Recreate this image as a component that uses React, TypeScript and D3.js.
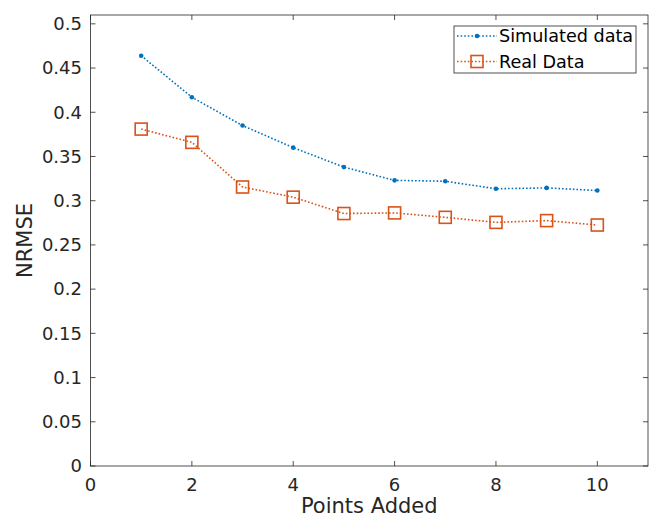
import React from "react";
import * as d3 from "d3";

const xValues = [1, 2, 3, 4, 5, 6, 7, 8, 9, 10];
const simulated = [0.464, 0.417, 0.385, 0.36, 0.338, 0.323, 0.322, 0.3135, 0.3145, 0.3115];
const real = [0.381, 0.366, 0.3155, 0.304, 0.2855, 0.2862, 0.2812, 0.2755, 0.2775, 0.2725];
const xTicks = [0, 2, 4, 6, 8, 10];
const yTicks = [0, 0.05, 0.1, 0.15, 0.2, 0.25, 0.3, 0.35, 0.4, 0.45, 0.5];
const seriesNames = ["Simulated data", "Real Data"];

const W = 649, H = 518;
const L = 90.5, R = 648, T = 15, B = 466;
const FONT = "DejaVu Sans, sans-serif";
const AX = "#262626";
const BLUE = "#0072BD";
const RED = "#D95319";

export default function App() {
  const x = d3.scaleLinear().domain([0, 11]).range([L, R]);
  const y = d3.scaleLinear().domain([0, 0.51]).range([B, T]);
  const line = d3.line<number>().x((_, i) => x(xValues[i])).y((d) => y(d));
  const tk = 5;
  return (
    <svg width={W} height={H} style={{ position: "absolute", left: 0, top: 0, background: "#fff" }}>
      <rect x={0} y={0} width={W} height={H} fill="#fff" />
      <rect x={L} y={T} width={R - L} height={B - T} fill="none" stroke={AX} strokeWidth={0.8} />
      {xTicks.map((t) => (
        <g key={"x" + t}>
          <line x1={x(t)} x2={x(t)} y1={B} y2={B - tk} stroke={AX} strokeWidth={0.8} />
          <line x1={x(t)} x2={x(t)} y1={T} y2={T + tk} stroke={AX} strokeWidth={0.8} />
          <text x={x(t)} y={491} textAnchor="middle" fontFamily={FONT} fontSize={18} fill={AX}>{t}</text>
        </g>
      ))}
      {yTicks.map((t) => (
        <g key={"y" + t}>
          <line x1={L} x2={L + tk} y1={y(t)} y2={y(t)} stroke={AX} strokeWidth={0.8} />
          <line x1={R} x2={R - tk} y1={y(t)} y2={y(t)} stroke={AX} strokeWidth={0.8} />
          <text x={82} y={y(t)} dy="0.35em" textAnchor="end" fontFamily={FONT} fontSize={18} fill={AX}>{t}</text>
        </g>
      ))}
      <text x={(L + R) / 2} y={513} textAnchor="middle" fontFamily={FONT} fontSize={21} fill={AX}>Points Added</text>
      <text transform={`translate(32,${(T + B) / 2}) rotate(-90)`} textAnchor="middle" fontFamily={FONT} fontSize={21} fill={AX}>NRMSE</text>

      <path d={line(simulated) || ""} fill="none" stroke={BLUE} strokeWidth={1.6} strokeDasharray="1.6 2" />
      {simulated.map((v, i) => (
        <circle key={"s" + i} cx={x(xValues[i])} cy={y(v)} r={2.3} fill={BLUE} />
      ))}
      <path d={line(real) || ""} fill="none" stroke={RED} strokeWidth={1.6} strokeDasharray="1.6 2" />
      {real.map((v, i) => (
        <rect key={"r" + i} x={x(xValues[i]) - 6} y={y(v) - 6} width={12} height={12} fill="none" stroke={RED} strokeWidth={1.6} />
      ))}

      <rect x={454} y={26} width={182} height={47} fill="#fff" stroke={AX} strokeWidth={0.8} />
      <line x1={457} x2={497} y1={36} y2={36} stroke={BLUE} strokeWidth={1.6} strokeDasharray="1.6 2" />
      <circle cx={477} cy={36} r={2.3} fill={BLUE} />
      <text x={499} y={36} dy="0.35em" fontFamily={FONT} fontSize={17.6} fill="#000">{seriesNames[0]}</text>
      <line x1={457} x2={497} y1={61.5} y2={61.5} stroke={RED} strokeWidth={1.6} strokeDasharray="1.6 2" />
      <rect x={471} y={55.5} width={12} height={12} fill="none" stroke={RED} strokeWidth={1.6} />
      <text x={499} y={61.5} dy="0.35em" fontFamily={FONT} fontSize={17.6} fill="#000">{seriesNames[1]}</text>
    </svg>
  );
}
